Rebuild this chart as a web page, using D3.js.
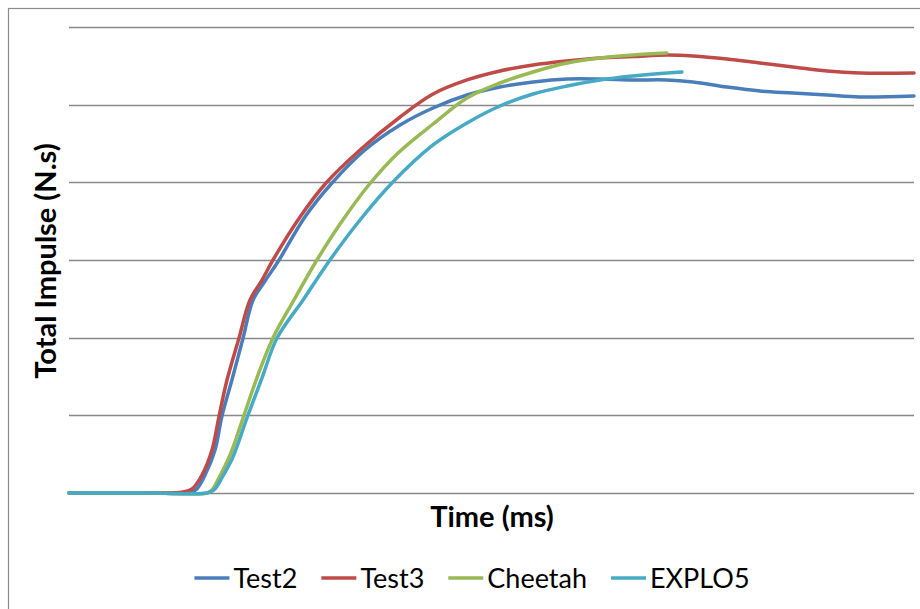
<!DOCTYPE html>
<html>
<head>
<meta charset="utf-8">
<script src="https://cdn.jsdelivr.net/npm/d3@7/dist/d3.min.js"></script>
<style>
  html, body { margin: 0; padding: 0; background: #fff; }
  svg { display: block; }
  text { font-family: Lato, "Open Sans", sans-serif; fill: #000; }
</style>
</head>
<body>
<svg id="chart" width="920" height="609"></svg>
<script>
// Total impulse vs time for two tests and two codes
const seriesNames = ["Test2", "Test3", "Cheetah", "EXPLO5"];
const seriesColors = ["#4A7EBB", "#BE4B48", "#98B954", "#46AAC5"];

const test2Time = [0, 4.8, 7.0, 7.5, 8.05, 8.64, 9.05, 9.64, 10.3, 10.89, 11.6, 12.43, 13.96, 15.56, 17.51, 19.59, 21.54, 23.55, 25.5, 27.46, 29.47, 31.42, 33.37, 35.38, 36.92, 38.93, 40.89, 42.84, 44.85, 46.8, 50.0];
const test2Impulse = [0, 0, 0, 0.39, 2.32, 5.54, 9.91, 14.55, 19.96, 24.85, 27.3, 30.0, 35.54, 39.91, 44.16, 47.38, 49.57, 51.24, 52.27, 52.92, 53.3, 53.3, 53.18, 53.18, 52.92, 52.27, 51.76, 51.5, 51.24, 50.98, 51.11];

const test3Time = [0, 4.8, 6.75, 7.28, 7.87, 8.46, 8.88, 9.35, 10.06, 10.71, 11.42, 12.07, 13.67, 15.21, 17.22, 19.59, 21.54, 23.55, 25.5, 27.46, 29.47, 31.42, 33.37, 35.38, 36.92, 38.93, 40.89, 42.84, 44.85, 46.8, 50.0];
const test3Impulse = [0, 0, 0.13, 0.52, 2.32, 5.54, 9.91, 14.55, 19.96, 24.85, 27.42, 30.0, 35.54, 39.91, 44.16, 48.41, 51.37, 53.18, 54.34, 55.11, 55.63, 56.01, 56.2, 56.4, 56.27, 55.88, 55.36, 54.85, 54.34, 54.08, 54.08];

const cheetahTime = [0, 4.8, 8.17, 8.46, 8.93, 9.53, 10.3, 11.18, 12.07, 13.31, 14.67, 16.04, 17.69, 19.47, 21.54, 23.55, 25.5, 27.46, 29.47, 31.42, 33.37, 35.38];
const cheetahImpulse = [0, 0, 0, 0.39, 2.19, 4.89, 9.66, 15.19, 19.96, 24.85, 30.0, 34.64, 39.53, 43.78, 47.51, 50.86, 52.79, 54.21, 55.36, 56.01, 56.4, 56.65];

const explo5Time = [0, 4.8, 8.17, 8.58, 9.11, 9.7, 10.53, 11.42, 12.31, 13.85, 15.44, 17.22, 19.11, 21.54, 23.55, 25.5, 27.46, 29.47, 31.42, 33.37, 35.38, 36.27];
const explo5Impulse = [0, 0, 0, 0.39, 2.19, 4.64, 9.66, 14.81, 19.96, 24.85, 30.0, 35.15, 39.91, 44.81, 47.64, 49.83, 51.37, 52.4, 53.18, 53.69, 54.08, 54.21];

const gridValues = [0, 10, 20, 30, 40, 50, 60];

const xTitle = "Time (ms)";
const yTitle = "Total Impulse (N.s)";

const seriesTimes = [test2Time, test3Time, cheetahTime, explo5Time];
const seriesValues = [test2Impulse, test3Impulse, cheetahImpulse, explo5Impulse];

const series = seriesNames.map((name, i) => ({
  name,
  color: seriesColors[i],
  points: seriesTimes[i].map((t, j) => ({ t, v: seriesValues[i][j] }))
}));

const svg = d3.select("#chart");

// chart frame
svg.append("rect")
  .attr("x", 8.5).attr("y", 8.5)
  .attr("width", 940).attr("height", 640)
  .attr("fill", "none")
  .attr("stroke", "#8a8a8a")
  .attr("stroke-width", 1.2);

const x = d3.scaleLinear().domain([0, 50]).range([69, 914]);
const y = d3.scaleLinear().domain([0, 60]).range([493, 27]);

// horizontal gridlines (the zero line doubles as the time axis)
svg.append("g")
  .selectAll("line")
  .data(gridValues)
  .join("line")
  .attr("x1", x.range()[0]).attr("x2", x.range()[1])
  .attr("y1", d => Math.round(y(d)) + 0.5)
  .attr("y2", d => Math.round(y(d)) + 0.5)
  .attr("stroke", "#888888")
  .attr("stroke-width", 1.3);

const line = d3.line()
  .x(d => x(d.t))
  .y(d => y(d.v))
  .curve(d3.curveCatmullRom.alpha(0.5));

svg.append("g")
  .selectAll("path")
  .data(series)
  .join("path")
  .attr("d", d => line(d.points))
  .attr("fill", "none")
  .attr("stroke", d => d.color)
  .attr("stroke-width", 3.5)
  .attr("stroke-linecap", "round")
  .attr("stroke-linejoin", "round");

// axis titles
svg.append("text")
  .attr("x", 492).attr("y", 527)
  .attr("text-anchor", "middle")
  .attr("font-weight", "bold")
  .attr("font-size", 29)
  .text(xTitle);

svg.append("text")
  .attr("transform", "translate(56,261) rotate(-90)")
  .attr("text-anchor", "middle")
  .attr("font-weight", "bold")
  .attr("font-size", 29)
  .text(yTitle);

// legend
const legend = svg.append("g");
const items = legend.selectAll("g")
  .data(series)
  .join("g");

items.append("line")
  .attr("x1", 0).attr("x2", 35)
  .attr("y1", 0).attr("y2", 0)
  .attr("stroke", d => d.color)
  .attr("stroke-width", 3.5);

items.append("text")
  .attr("x", 39).attr("y", 10)
  .attr("font-size", 27)
  .text(d => d.name);

let cursor = 0;
const gap = 24;
items.each(function () {
  const g = d3.select(this);
  const w = 39 + g.select("text").node().getComputedTextLength();
  g.attr("transform", `translate(${cursor},578)`);
  cursor += w + gap;
});
const totalWidth = cursor - gap;
legend.attr("transform", `translate(${472 - totalWidth / 2},0)`);
</script>
</body>
</html>
